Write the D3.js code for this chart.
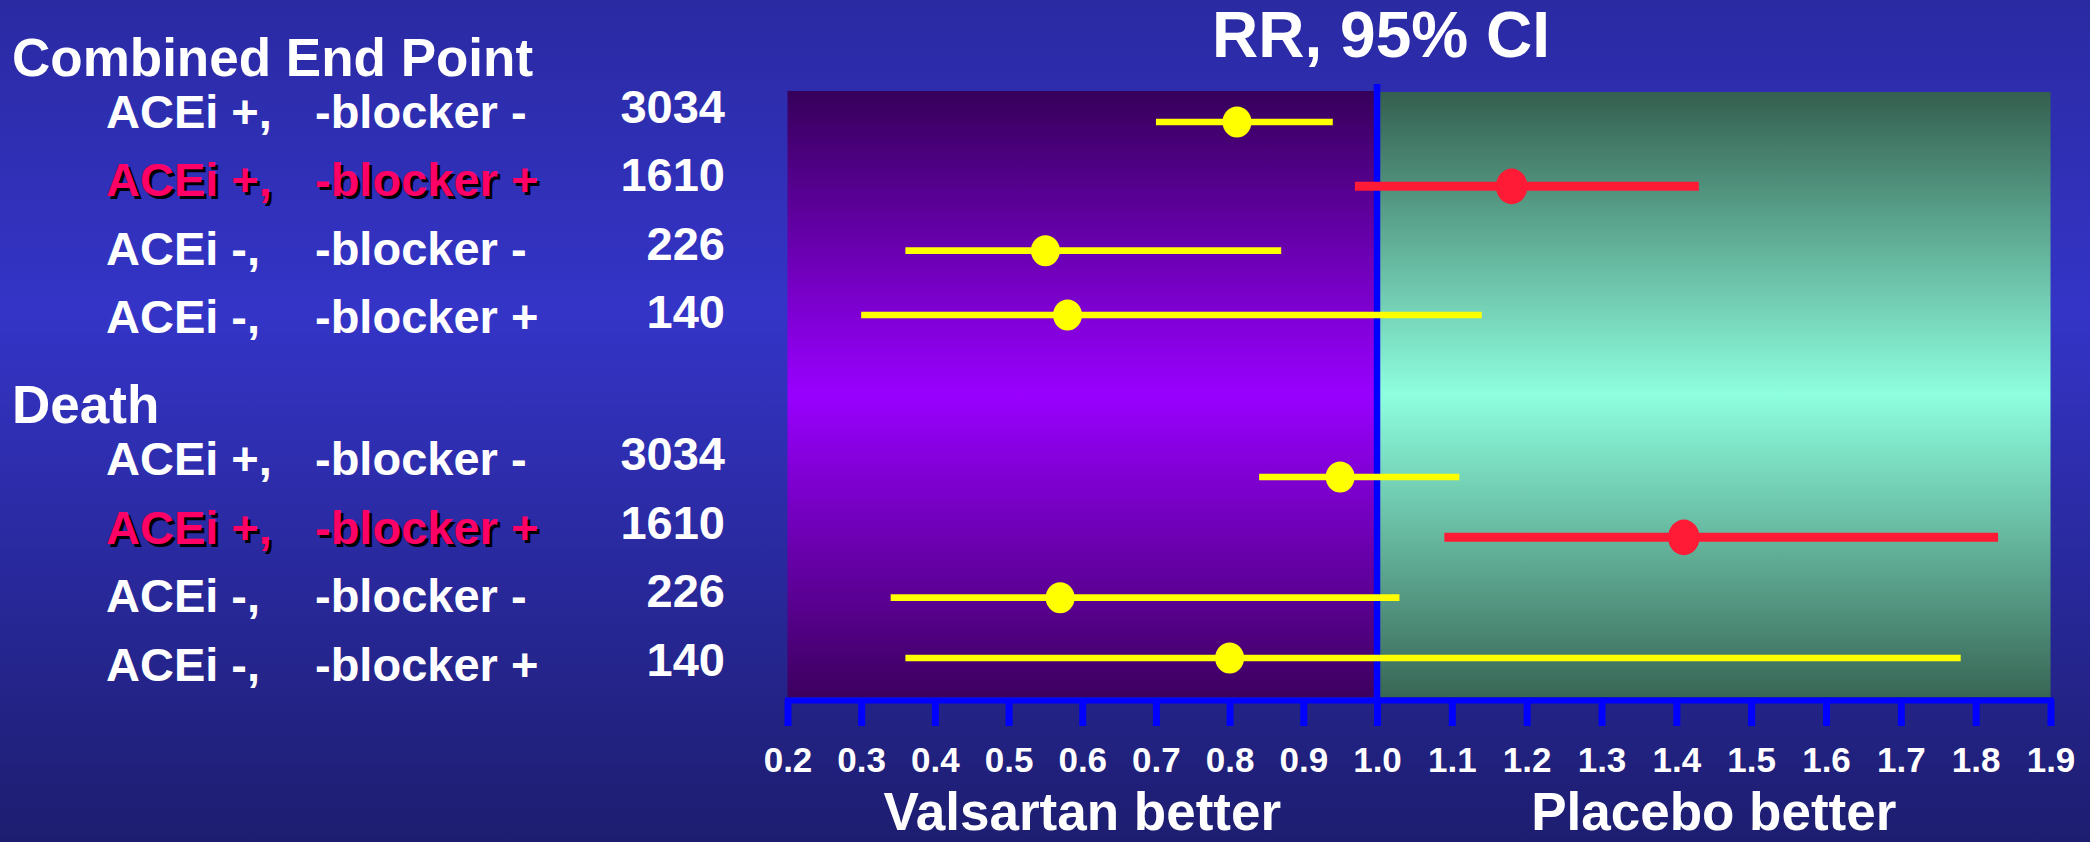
<!DOCTYPE html>
<html>
<head>
<meta charset="utf-8">
<script src="https://cdn.jsdelivr.net/npm/d3@7"></script>
<style>
  html, body { margin: 0; padding: 0; background: #2a2aa4; }
  svg { display: block; }
  text { font-family: "Liberation Sans", Arial, Helvetica, sans-serif; font-weight: bold; }
</style>
</head>
<body>
<svg id="chart" width="2090" height="842"></svg>
<script>
// ---- data -------------------------------------------------------------
const endpoints = ["Combined End Point", "Death"];
const aceLabels = ["ACEi +,", "ACEi +,", "ACEi -,", "ACEi -,"];
const blockerLabels = ["-blocker -", "-blocker +", "-blocker -", "-blocker +"];
const patientCounts = [3034, 1610, 226, 140];
const highlightRow = [false, true, false, false];

const combinedRR   = [0.81, 1.18, 0.55, 0.58];
const combinedLow  = [0.70, 0.97, 0.36, 0.30];
const combinedHigh = [0.94, 1.43, 0.87, 1.14];

const deathRR   = [0.95, 1.41, 0.57, 0.80];
const deathLow  = [0.84, 1.09, 0.34, 0.36];
const deathHigh = [1.11, 1.83, 1.03, 1.78];

const tickValues = [0.2, 0.3, 0.4, 0.5, 0.6, 0.7, 0.8, 0.9, 1.0,
                    1.1, 1.2, 1.3, 1.4, 1.5, 1.6, 1.7, 1.8, 1.9];
const chartTitle = "RR, 95% CI";
const sideLabels = [{ text: "Valsartan better", at: 0.6 }, { text: "Placebo better", at: 1.45 }];

// ---- layout -----------------------------------------------------------
const W = 2090, H = 842;
const plotTop = 91, plotBottom = 697, axisY = 700;

const svg = d3.select("#chart");
const defs = svg.append("defs");

function vGradient(id, stops) {
  const g = defs.append("linearGradient").attr("id", id)
    .attr("x1", 0).attr("y1", 0).attr("x2", 0).attr("y2", 1);
  stops.forEach(([o, c]) => g.append("stop").attr("offset", o).attr("stop-color", c));
}
vGradient("bg", [[0, "#2a2aa3"], [0.37, "#3434c7"], [1, "#1d1d70"]]);
vGradient("leftPanel", [[0, "#36005a"], [0.5, "#9900ff"], [1, "#3c005e"]]);
vGradient("rightPanel", [[0, "#345f4f"], [0.5, "#8effdf"], [1, "#386655"]]);

svg.append("rect").attr("width", W).attr("height", H).attr("fill", "url(#bg)");

// RR scale: slightly wider spacing on the placebo side
const x = d3.scaleLinear().domain([0.2, 1.0, 1.9]).range([787.5, 1377, 2050.5]);

// ---- shaded panels ----------------------------------------------------
svg.append("rect")
  .attr("x", x(0.2)).attr("y", plotTop)
  .attr("width", x(1.0) - x(0.2)).attr("height", plotBottom - plotTop)
  .attr("fill", "url(#leftPanel)");
svg.append("rect")
  .attr("x", x(1.0)).attr("y", plotTop + 1)
  .attr("width", x(1.9) - x(1.0)).attr("height", plotBottom - plotTop - 1)
  .attr("fill", "url(#rightPanel)");

// line of no effect
svg.append("line")
  .attr("x1", x(1.0)).attr("x2", x(1.0))
  .attr("y1", 84).attr("y2", axisY)
  .attr("stroke", "#0000ff").attr("stroke-width", 6.5);

// ---- title ------------------------------------------------------------
svg.append("text")
  .attr("x", 1381).attr("y", 57)
  .attr("text-anchor", "middle")
  .attr("font-size", 64).attr("fill", "#ffffff")
  .text(chartTitle);

// ---- left-hand labels -------------------------------------------------
const headerBaselines = [76, 423];
const textRowY = [
  d3.scaleLinear().domain([0, 3]).range([128, 333]),
  d3.scaleLinear().domain([0, 3]).range([475, 681])
];

endpoints.forEach((name, g) => {
  svg.append("text")
    .attr("x", 12).attr("y", headerBaselines[g])
    .attr("font-size", 53).attr("fill", "#ffffff")
    .text(name);

  const rows = svg.append("g");
  aceLabels.forEach((ace, i) => {
    const y = textRowY[g](i);
    const hot = highlightRow[i];
    const parts = [[106, ace], [315, blockerLabels[i]]];
    parts.forEach(([px, label]) => {
      if (hot) {
        rows.append("text")
          .attr("x", px + 3).attr("y", y + 3)
          .attr("font-size", 47).attr("fill", "#000000")
          .text(label);
      }
      rows.append("text")
        .attr("x", px).attr("y", y)
        .attr("font-size", 47).attr("fill", hot ? "#ff0066" : "#ffffff")
        .text(label);
    });
    rows.append("text")
      .attr("x", 725).attr("y", y - 5)
      .attr("text-anchor", "end")
      .attr("font-size", 47).attr("fill", "#ffffff")
      .text(patientCounts[i]);
  });
});

// ---- forest marks -----------------------------------------------------
const markRowY = [
  d3.scaleLinear().domain([0, 3]).range([122, 315]),
  d3.scaleLinear().domain([0, 3]).range([477, 658])
];
const series = [
  { rr: combinedRR, lo: combinedLow, hi: combinedHigh },
  { rr: deathRR, lo: deathLow, hi: deathHigh }
];

const marks = svg.append("g");
series.forEach((s, g) => {
  s.rr.forEach((v, i) => {
    const y = markRowY[g](i);
    const hot = highlightRow[i];
    const col = hot ? "#ff1a35" : "#ffff00";
    marks.append("line")
      .attr("x1", x(s.lo[i])).attr("x2", x(s.hi[i]))
      .attr("y1", y).attr("y2", y)
      .attr("stroke", col).attr("stroke-width", hot ? 9 : 6.7);
    marks.append("ellipse")
      .attr("cx", x(v)).attr("cy", y)
      .attr("rx", hot ? 15.8 : 14.5).attr("ry", hot ? 17.8 : 15.5)
      .attr("fill", col);
  });
});

// ---- axis -------------------------------------------------------------
const axis = d3.axisBottom(x)
  .tickValues(tickValues)
  .tickFormat(d3.format(".1f"))
  .tickSize(26)
  .tickSizeOuter(0);

const ax = svg.append("g").attr("transform", `translate(0,${axisY})`).call(axis);
ax.select(".domain")
  .attr("stroke", "#0000ff").attr("stroke-width", 6)
  .attr("stroke-linecap", "square");
ax.selectAll(".tick line")
  .attr("stroke", "#0000ff").attr("stroke-width", 7);
ax.selectAll(".tick text")
  .attr("y", 72).attr("dy", 0)
  .attr("fill", "#ffffff")
  .attr("font-size", 35)
  .attr("font-family", "Liberation Sans, Arial, sans-serif")
  .attr("font-weight", "bold");

// direction labels under the axis
svg.selectAll("text.side")
  .data(sideLabels)
  .enter().append("text")
  .attr("class", "side")
  .attr("x", d => x(d.at)).attr("y", 830)
  .attr("text-anchor", "middle")
  .attr("font-size", 53).attr("fill", "#ffffff")
  .text(d => d.text);
</script>
</body>
</html>
